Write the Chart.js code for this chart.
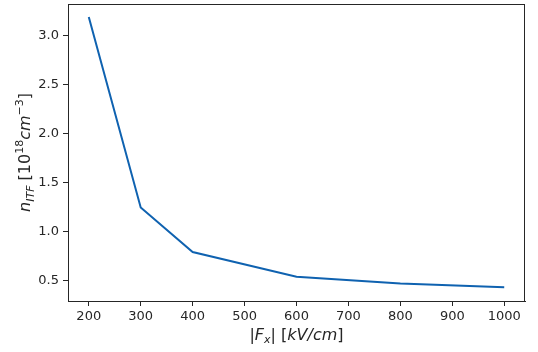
<!DOCTYPE html>
<html>
<head>
<meta charset="utf-8">
<script src="https://cdn.jsdelivr.net/npm/chart.js@4.4.1/dist/chart.umd.min.js"></script>
<style>
  html, body { margin: 0; padding: 0; background: #fff; }
  #wrap { width: 538px; height: 352px; position: relative; }
</style>
</head>
<body>
<div id="wrap"><canvas id="chart" width="538" height="352"></canvas></div>
<script>
// field strength |Fx| in kV/cm
const fieldValues = [200, 300, 400, 600, 800, 1000];
// n_ITF in 1e18 cm^-3
const densityValues = [3.19, 1.25, 0.795, 0.543, 0.475, 0.435];

const xTicks = [200, 300, 400, 500, 600, 700, 800, 900, 1000];
const yTicks = [0.5, 1.0, 1.5, 2.0, 2.5, 3.0];

const FONT = "'DejaVu Sans', sans-serif";
const INK = '#262626';

// draw a run of text pieces (for sub/superscripts) centred on x
function drawRich(ctx, parts, cx, cy) {
    let total = 0;
    parts.forEach(p => {
        ctx.font = p.font;
        p.w = ctx.measureText(p.text).width;
        total += p.w;
    });
    let x = cx - total / 2;
    ctx.textAlign = 'left';
    ctx.textBaseline = 'alphabetic';
    parts.forEach(p => {
        ctx.font = p.font;
        ctx.fillText(p.text, x, cy + (p.dy || 0));
        x += p.w;
    });
}

const axisTitles = {
    id: 'axisTitles',
    afterDraw(chart) {
        const ctx = chart.ctx;
        const area = chart.chartArea;
        ctx.save();
        // frame on all four sides
        ctx.strokeStyle = INK;
        ctx.lineWidth = 1;
        ctx.strokeRect(area.left + 0.5, area.top + 0.5, area.right - area.left - 1, area.bottom - area.top);

        ctx.fillStyle = INK;
        const big = '16px ' + FONT;
        const bigI = 'italic 16px ' + FONT;
        const small = '11px ' + FONT;
        const smallI = 'italic 11px ' + FONT;

        // x title: |F_x| [kV/cm]
        drawRich(ctx, [
            { text: '|', font: big },
            { text: 'F', font: bigI },
            { text: 'x', font: smallI, dy: 3 },
            { text: '| [', font: big },
            { text: 'kV/cm', font: bigI },
            { text: ']', font: big }
        ], (area.left + area.right) / 2, 340);

        // y title: n_ITF [10^18 cm^-3]
        ctx.translate(30, (area.top + area.bottom) / 2);
        ctx.rotate(-Math.PI / 2);
        drawRich(ctx, [
            { text: 'n', font: bigI },
            { text: 'ITF', font: smallI, dy: 4 },
            { text: ' [10', font: big },
            { text: '18', font: small, dy: -7 },
            { text: 'cm', font: bigI },
            { text: '\u22123', font: small, dy: -7 },
            { text: ']', font: big }
        ], 0, 0);
        ctx.restore();
    }
};

const ctx = document.getElementById('chart').getContext('2d');
new Chart(ctx, {
    type: 'line',
    data: {
        datasets: [{
            data: fieldValues.map((x, i) => ({ x: x, y: densityValues[i] })),
            borderColor: '#0f62b0',
            borderWidth: 2,
            pointRadius: 0,
            tension: 0,
            fill: false
        }]
    },
    options: {
        responsive: false,
        animation: false,
        events: [],
        layout: { padding: { top: 4, right: 13, left: 0, bottom: 0 } },
        plugins: {
            legend: { display: false },
            tooltip: { enabled: false }
        },
        scales: {
            x: {
                type: 'linear',
                min: 160,
                max: 1040,
                afterBuildTicks: s => { s.ticks = xTicks.map(v => ({ value: v })); },
                afterFit: s => {
                    s.height = 51;
                    s.paddingLeft = 0;
                    s.paddingRight = 0;
                },
                grid: { drawOnChartArea: false, tickLength: 5, color: INK, tickWidth: 1 },
                border: { color: INK, width: 1 },
                ticks: {
                    color: INK,
                    padding: 3,
                    maxRotation: 0,
                    font: { family: FONT, size: 13 },
                    callback: v => String(v)
                }
            },
            y: {
                type: 'linear',
                min: 0.296,
                max: 3.323,
                afterBuildTicks: s => { s.ticks = yTicks.map(v => ({ value: v })); },
                afterFit: s => {
                    s.width = 68;
                    s.paddingTop = 0;
                    s.paddingBottom = 0;
                },
                grid: { drawOnChartArea: false, tickLength: 5, color: INK, tickWidth: 1 },
                border: { color: INK, width: 1 },
                ticks: {
                    color: INK,
                    padding: 4,
                    font: { family: FONT, size: 13 },
                    callback: v => v.toFixed(1)
                }
            }
        }
    },
    plugins: [axisTitles]
});
</script>
</body>
</html>
